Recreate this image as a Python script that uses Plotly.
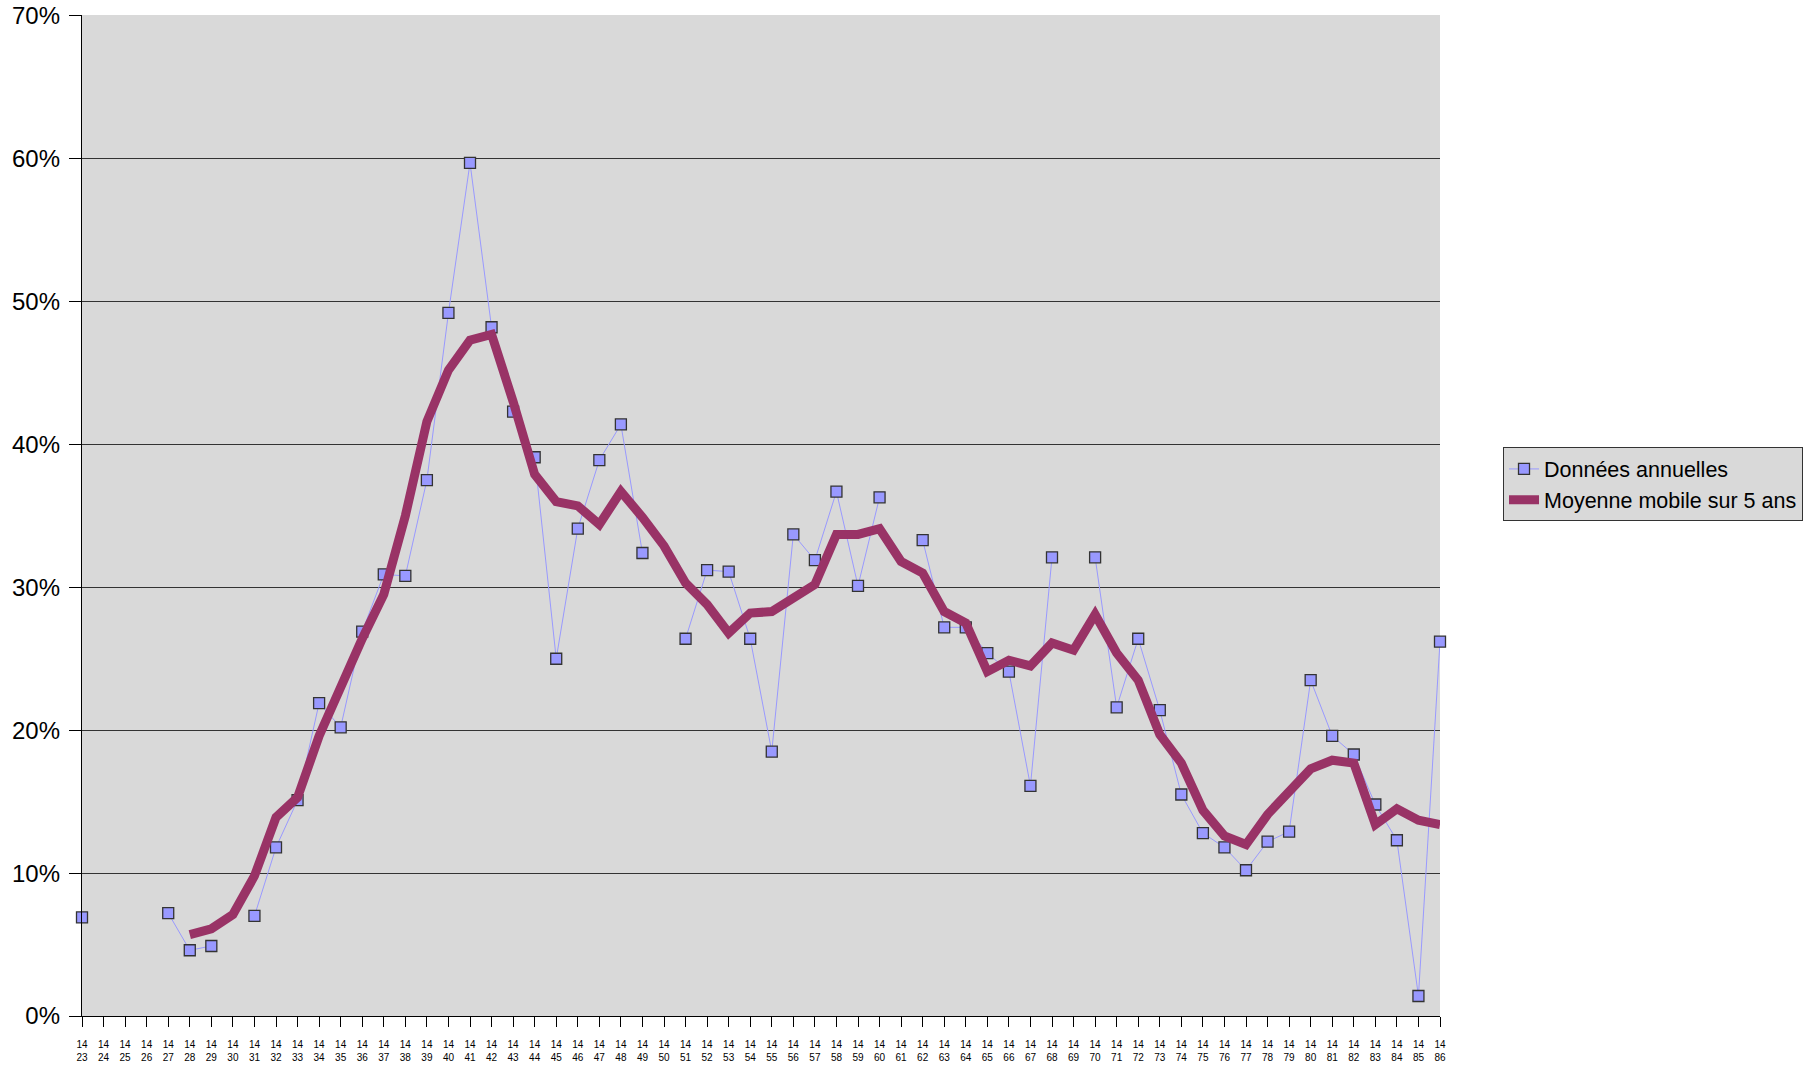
import plotly.graph_objects as go

years = list(range(1423, 1487))

# Annual data (%), None = no data
annual = [
    6.9, None, None, None, 7.2, 4.6, 4.9, None, 7.0, 11.8,   # 1423-1432
    15.1, 21.9, 20.2, 26.9, 30.9, 30.8, 37.5, 49.2, 59.7, 48.2,  # 1433-1442
    42.3, 39.1, 25.0, 34.1, 38.9, 41.4, 32.4, None, 26.4, 31.2,  # 1443-1452
    31.1, 26.4, 18.5, 33.7, 31.9, 36.7, 30.1, 36.3, None, 33.3,  # 1453-1462
    27.2, 27.2, 25.4, 24.1, 16.1, 32.1, None, 32.1, 21.6, 26.4,  # 1463-1472
    21.4, 15.5, 12.8, 11.8, 10.2, 12.2, 12.9, 23.5, 19.6, 18.3,  # 1473-1482
    14.8, 12.3, 1.4, 26.2,                                       # 1483-1486
]

# 5-year moving average (%)
moving_avg = [
    None, None, None, None, None, 5.7, 6.1, 7.1, 9.8, 13.9,      # 1423-1432
    15.3, 19.6, 23.2, 26.4, 29.5, 35.0, 41.6, 45.2, 47.3, 47.7,  # 1433-1442
    43.0, 37.9, 36.0, 35.7, 34.4, 36.7, 34.9, 32.9, 30.3, 28.8,  # 1443-1452
    26.8, 28.2, 28.3, 29.3, 30.2, 33.7, 33.7, 34.1, 31.8, 31.0,  # 1453-1462
    28.3, 27.5, 24.1, 24.9, 24.5, 26.1, 25.6, 28.1, 25.4, 23.5,  # 1463-1472
    19.7, 17.7, 14.4, 12.6, 12.0, 14.1, 15.7, 17.3, 17.9, 17.7,  # 1473-1482
    13.4, 14.5, 13.7, 13.4,                                      # 1483-1486
]

tick_text = [f"{str(y)[:2]}<br>{str(y)[2:]}" for y in years]
y_ticks = list(range(0, 71, 10))
y_tick_text = [f"{v}%" for v in y_ticks]

FONT = "Liberation Sans, Arial, sans-serif"

fig = go.Figure()
fig.add_trace(go.Scatter(
    x=years, y=annual, name="Données annuelles",
    mode="lines+markers", connectgaps=False,
    line=dict(color="#9999ff", width=1),
    marker=dict(symbol="square", size=11, color="#9999ff",
                line=dict(color="#333333", width=1.3)),
    cliponaxis=False,
))
fig.add_trace(go.Scatter(
    x=years, y=moving_avg, name="Moyenne mobile sur 5 ans",
    mode="lines", connectgaps=False,
    line=dict(color="#993366", width=9),
    cliponaxis=False,
))

fig.update_layout(
    width=1812, height=1067,
    margin=dict(l=82, r=372, t=15, b=51, autoexpand=False),
    paper_bgcolor="white",
    plot_bgcolor="#d9d9d9",
    font=dict(family=FONT, color="black"),
    showlegend=True,
    legend=dict(
        x=1.0464, y=0.568, xanchor="left", yanchor="top",
        bgcolor="#d9d9d9", bordercolor="#333333", borderwidth=1,
        font=dict(size=21.5, family=FONT),
        itemwidth=30,
    ),
    xaxis=dict(
        range=[1423, 1486], automargin=False,
        tickmode="array", tickvals=years, ticktext=tick_text,
        showgrid=False, zeroline=False,
        showline=True, linecolor="black", linewidth=1.3,
        ticks="outside", ticklen=10, tickcolor="black", tickwidth=1.3,
        tickfont=dict(size=10, family=FONT),
        tickangle=0, ticklabelstandoff=9,
        ticklabeloverflow="allow",
    ),
    yaxis=dict(
        range=[0, 70.05], automargin=False,
        tickmode="array", tickvals=y_ticks, ticktext=y_tick_text,
        showgrid=True, gridcolor="#333333", gridwidth=1.3,
        zeroline=False,
        showline=True, linecolor="black", linewidth=1.3,
        ticks="outside", ticklen=12, tickcolor="black", tickwidth=1.3,
        tickfont=dict(size=24, family=FONT),
        ticklabelstandoff=4,
        ticklabeloverflow="allow",
    ),
)

fig.write_html(
    "out.html",
    config={"displayModeBar": False},
    post_script="document.body.style.margin='0';document.body.style.overflow='hidden';",
)
